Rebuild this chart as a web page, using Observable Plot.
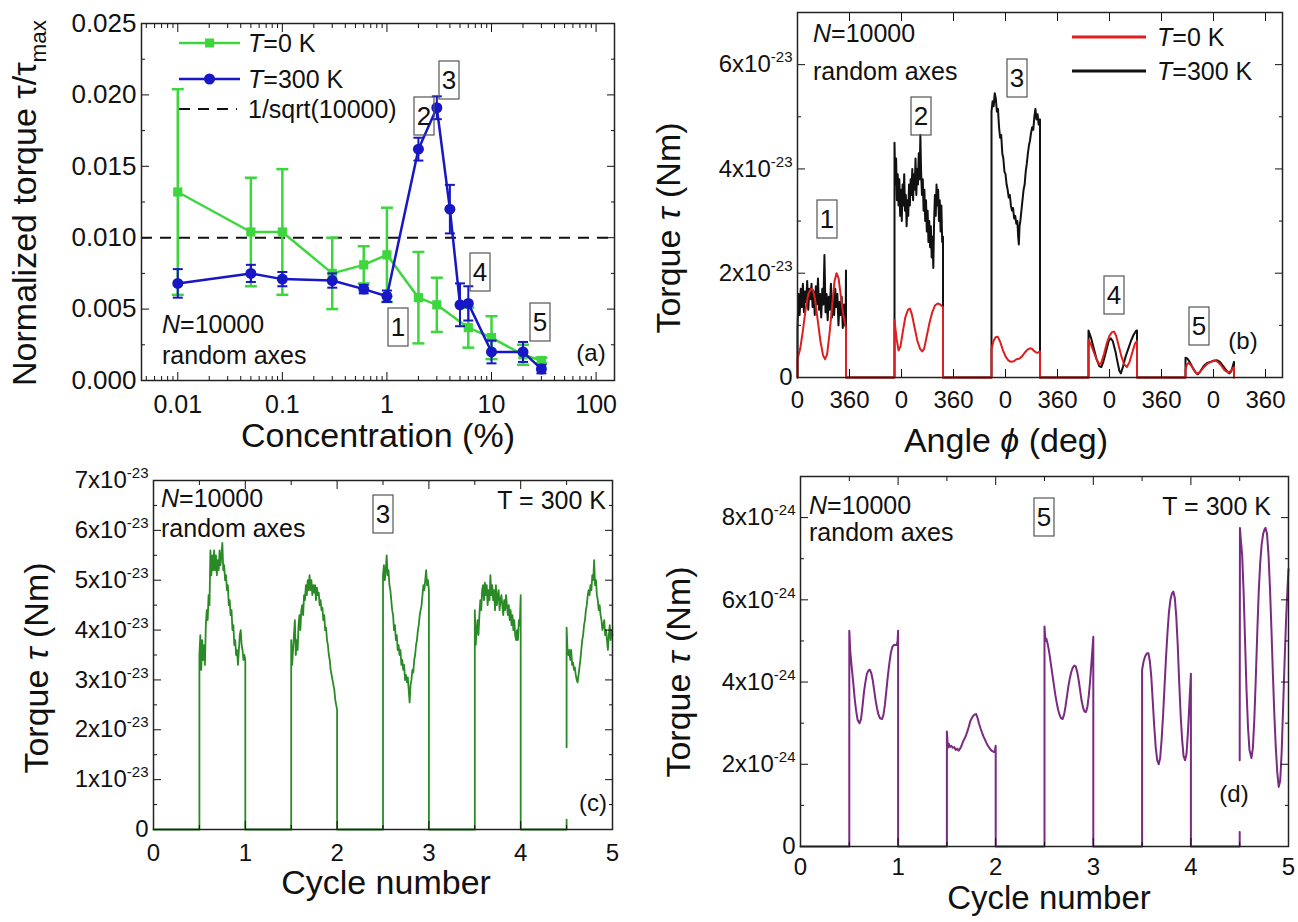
<!DOCTYPE html>
<html><head><meta charset="utf-8">
<script src="https://cdn.jsdelivr.net/npm/d3@7"></script>
<script src="https://cdn.jsdelivr.net/npm/@observablehq/plot@0.6"></script>
<style>
body{margin:0;background:#fff;}
#fig{position:relative;width:1298px;height:922px;overflow:hidden;background:#fff;}
</style></head><body><div id="fig"></div>
<script>
// ================= DATA =================
// Panel (a): normalized torque vs concentration (%)
const concT0 = [0.01, 0.05, 0.1, 0.3, 0.6, 1, 2, 3, 6, 10, 20, 30];
const torqueT0 = [0.0132, 0.0104, 0.0104, 0.0075, 0.0081, 0.0088, 0.0058, 0.0053, 0.0037, 0.0030, 0.0018, 0.0014];
const errT0 = [0.0072, 0.0038, 0.0044, 0.0025, 0.0013, 0.0033, 0.0032, 0.0019, 0.0014, 0.0015, 0.0007, 0.0002];
const concT300 = [0.01, 0.05, 0.1, 0.3, 0.6, 1, 2, 3, 4, 5, 6, 10, 20, 30];
const torqueT300 = [0.0068, 0.0075, 0.0071, 0.0070, 0.0064, 0.0059, 0.0162, 0.0191, 0.0120, 0.0053, 0.0054, 0.0020, 0.0020, 0.0008];
const errT300 = [0.0010, 0.0006, 0.0005, 0.0005, 0.0003, 0.0004, 0.0008, 0.0008, 0.0017, 0.0015, 0.0012, 0.0008, 0.0007, 0.0003];
const refLevel = [0.01]; // 1/sqrt(10000)
const aXTicks = [0.01, 0.1, 1, 10, 100];

// Panel (b): torque (units 1e-23 Nm) vs angle, five samples laid side by side
const bSegmentStart = [0, 720, 1440, 2160, 2880];
const bTickPos = [0, 386, 772, 1158, 1544, 1930, 2316, 2702, 3088, 3474];
const bTickLabels = ["0", "360", "0", "360", "0", "360", "0", "360", "0", "360"];
const bBlack = [
  [[0,0.95],[8,1.6],[16,1.2],[24,1.7],[32,1.35],[40,1.8],[48,1.25],[56,1.65],[64,1.45],[72,1.85],[80,1.3],[88,1.7],[96,1.5],[104,1.8],[112,1.35],[120,1.65],[128,1.2],[136,1.75],[144,1.4],[152,1.9],[160,1.3],[168,1.6],[176,1.15],[184,1.7],[192,1.4],[200,2.35],[208,1.25],[216,1.6],[224,1.1],[232,1.55],[240,1.3],[248,1.8],[256,1.15],[264,1.5],[272,1.2],[280,1.7],[288,1.35],[296,1.6],[304,1.0],[312,1.45],[320,1.2],[328,1.55],[336,0.95],[344,1.4],[352,1.0],[358,1.3],[360,2.05]],
  [[0,4.5],[6,3.7],[12,4.2],[18,3.4],[24,3.9],[30,3.3],[36,3.8],[42,3.1],[48,3.6],[54,3.0],[60,3.7],[66,3.3],[72,3.9],[78,3.2],[84,3.5],[90,2.9],[96,3.4],[102,3.1],[108,3.7],[114,3.3],[120,3.8],[126,3.5],[132,4.0],[138,3.4],[144,3.9],[150,3.6],[156,4.2],[162,3.5],[168,4.0],[174,3.7],[180,4.3],[186,3.8],[192,4.65],[198,3.9],[204,3.5],[210,3.8],[216,3.2],[222,3.6],[228,3.0],[234,3.4],[240,2.8],[246,3.2],[252,2.6],[258,3.0],[264,2.5],[270,2.9],[276,2.3],[282,2.7],[288,2.1],[294,3.0],[300,3.5],[306,3.1],[312,3.7],[318,3.3],[324,3.6],[330,3.0],[336,3.4],[342,2.8],[348,3.3],[354,2.6],[360,2.7]],
  [[0,5.1],[8,5.3],[16,5.2],[24,5.45],[32,5.35],[40,5.1],[48,5.15],[56,4.8],[64,4.6],[72,4.65],[80,4.3],[88,4.2],[96,3.95],[104,3.9],[112,3.7],[120,3.6],[128,3.45],[136,3.5],[144,3.3],[152,3.2],[160,3.25],[168,3.05],[176,3.1],[184,2.95],[192,3.0],[198,2.7],[203,2.55],[208,2.9],[214,3.0],[222,3.2],[230,3.4],[238,3.6],[246,3.7],[254,3.95],[262,4.1],[270,4.3],[278,4.45],[286,4.55],[294,4.7],[302,4.8],[310,4.75],[318,5.0],[326,5.15],[334,4.95],[342,5.05],[350,4.85],[360,4.95]],
  [[0,0.9],[20,0.75],[40,0.55],[60,0.35],[80,0.22],[95,0.2],[110,0.3],[130,0.5],[150,0.7],[165,0.75],[180,0.7],[200,0.5],[215,0.3],[230,0.12],[240,0.08],[255,0.2],[275,0.4],[295,0.55],[315,0.7],[335,0.82],[355,0.9],[360,0.9]],
  [[0,0.38],[15,0.36],[35,0.28],[55,0.18],[75,0.1],[92,0.06],[110,0.12],[135,0.22],[160,0.28],[185,0.3],[210,0.32],[235,0.33],[255,0.3],[280,0.22],[305,0.13],[325,0.08],[340,0.12],[360,0.3]]
];
const bRed = [
  [[0,0.35],[20,0.55],[40,0.9],[60,1.3],[80,1.6],[100,1.7],[115,1.68],[130,1.5],[150,1.1],[170,0.7],[190,0.42],[205,0.35],[220,0.45],[240,0.9],[260,1.45],[275,1.85],[290,2.0],[305,1.9],[320,1.6],[340,1.2],[360,0.95]],
  [[0,1.1],[15,0.75],[30,0.52],[45,0.6],[60,0.85],[80,1.15],[100,1.3],[115,1.32],[130,1.2],[150,0.95],[170,0.7],[190,0.55],[205,0.5],[220,0.55],[240,0.8],[260,1.05],[280,1.25],[300,1.38],[320,1.42],[340,1.4],[360,1.35]],
  [[0,0.55],[15,0.7],[30,0.77],[47,0.78],[65,0.68],[85,0.52],[105,0.4],[125,0.33],[145,0.3],[165,0.31],[185,0.35],[205,0.36],[225,0.4],[245,0.47],[265,0.53],[285,0.56],[300,0.55],[320,0.5],[340,0.47],[360,0.5]],
  [[0,0.72],[20,0.62],[40,0.48],[60,0.35],[80,0.25],[95,0.28],[115,0.45],[135,0.65],[155,0.8],[175,0.87],[190,0.88],[205,0.8],[225,0.6],[245,0.4],[265,0.25],[285,0.2],[305,0.3],[325,0.48],[345,0.65],[360,0.7]],
  [[0,0.15],[10,0.25],[25,0.28],[45,0.22],[65,0.13],[85,0.07],[105,0.1],[130,0.18],[160,0.26],[190,0.3],[215,0.33],[240,0.3],[265,0.23],[290,0.14],[315,0.1],[335,0.12],[350,0.17],[360,0.2]]
];

// Panel (c): torque (units 1e-23 Nm) vs cycle, sample 3, T = 300 K; [fraction of half cycle, value]
const cCycleStart = [0.5, 1.5, 2.5, 3.5, 4.5];
const cSegs = [
  [[0,3.5],[0.02,3.9],[0.04,3.2],[0.06,3.8],[0.08,3.4],[0.1,3.7],[0.12,3.3],[0.14,4.1],[0.16,4.4],[0.18,4.2],[0.2,4.7],[0.22,4.5],[0.24,5.6],[0.26,5.1],[0.28,5.5],[0.3,5.2],[0.32,5.6],[0.34,5.2],[0.36,5.5],[0.38,5.1],[0.4,5.4],[0.42,5.2],[0.44,5.6],[0.46,5.3],[0.48,5.5],[0.5,5.75],[0.52,5.2],[0.54,5.3],[0.56,5.0],[0.58,5.1],[0.6,4.8],[0.62,4.9],[0.64,4.5],[0.66,4.6],[0.68,4.3],[0.7,4.4],[0.72,4.0],[0.74,4.1],[0.76,3.7],[0.78,3.8],[0.8,3.5],[0.82,3.6],[0.84,3.3],[0.86,3.6],[0.88,3.9],[0.9,4.0],[0.92,3.7],[0.94,3.6],[0.96,3.4],[0.98,3.5],[1,3.4]],
  [[0,3.8],[0.02,3.3],[0.04,3.6],[0.06,3.9],[0.08,4.2],[0.1,3.5],[0.12,3.8],[0.14,3.6],[0.16,4.1],[0.18,4.3],[0.2,4.0],[0.22,4.4],[0.24,4.5],[0.26,4.3],[0.28,4.7],[0.3,4.6],[0.32,4.9],[0.34,4.7],[0.36,5.0],[0.38,4.8],[0.4,5.1],[0.42,4.8],[0.44,5.0],[0.46,4.7],[0.48,4.9],[0.5,4.75],[0.52,4.9],[0.54,4.6],[0.56,4.85],[0.58,4.7],[0.6,4.75],[0.62,4.5],[0.64,4.6],[0.66,4.4],[0.68,4.45],[0.7,4.2],[0.72,4.3],[0.74,4.0],[0.76,4.05],[0.78,3.8],[0.8,3.7],[0.82,3.5],[0.84,3.4],[0.86,3.2],[0.88,3.1],[0.9,3.0],[0.92,2.9],[0.94,2.8],[0.96,2.6],[0.98,2.5],[1,2.4]],
  [[0,5.1],[0.02,5.3],[0.04,5.0],[0.06,5.2],[0.08,5.5],[0.1,5.1],[0.12,5.2],[0.14,4.9],[0.16,4.8],[0.18,4.6],[0.2,4.4],[0.22,4.3],[0.24,4.0],[0.26,4.1],[0.28,3.8],[0.3,3.9],[0.32,3.6],[0.34,3.7],[0.36,3.5],[0.38,3.6],[0.4,3.3],[0.42,3.4],[0.44,3.2],[0.46,3.3],[0.48,3.0],[0.5,3.1],[0.52,2.95],[0.54,3.05],[0.56,2.8],[0.58,2.55],[0.6,2.9],[0.62,3.0],[0.64,3.2],[0.66,3.15],[0.68,3.4],[0.7,3.5],[0.72,3.7],[0.74,3.8],[0.76,4.0],[0.78,4.1],[0.8,4.3],[0.82,4.4],[0.84,4.5],[0.86,4.7],[0.88,4.9],[0.9,4.8],[0.92,5.0],[0.94,5.2],[0.96,4.9],[0.98,5.0],[1,4.8]],
  [[0,4.4],[0.02,3.7],[0.04,4.0],[0.06,4.2],[0.08,3.9],[0.1,4.3],[0.12,4.6],[0.14,4.4],[0.16,4.8],[0.18,4.9],[0.2,4.6],[0.22,4.95],[0.24,4.7],[0.26,4.9],[0.28,4.5],[0.3,4.8],[0.32,4.6],[0.34,5.1],[0.36,4.7],[0.38,4.9],[0.4,4.6],[0.42,4.8],[0.44,4.4],[0.46,4.9],[0.48,4.5],[0.5,4.7],[0.52,4.8],[0.54,4.4],[0.56,4.6],[0.58,4.7],[0.6,4.5],[0.62,4.3],[0.64,4.6],[0.66,4.4],[0.68,4.7],[0.7,4.5],[0.72,4.3],[0.74,4.5],[0.76,4.2],[0.78,4.4],[0.8,4.1],[0.82,4.3],[0.84,4.0],[0.86,4.2],[0.88,3.9],[0.9,3.8],[0.92,4.0],[0.94,3.8],[0.96,4.2],[0.98,4.1],[1,4.7]],
  [[0,1.65],[0,4.05],[0.02,3.6],[0.04,3.5],[0.06,3.6],[0.08,3.4],[0.1,3.6],[0.12,3.3],[0.14,3.35],[0.16,3.2],[0.18,3.25],[0.2,3.1],[0.22,3.0],[0.24,2.95],[0.26,3.1],[0.28,3.25],[0.3,3.4],[0.32,3.6],[0.34,3.8],[0.36,3.9],[0.38,4.1],[0.4,4.2],[0.42,4.4],[0.44,4.5],[0.46,4.7],[0.48,4.8],[0.5,4.7],[0.52,4.9],[0.54,4.8],[0.56,5.1],[0.58,5.0],[0.6,5.4],[0.62,4.9],[0.64,5.0],[0.66,4.7],[0.68,4.6],[0.7,4.4],[0.72,4.5],[0.74,4.3],[0.76,4.2],[0.78,4.0],[0.8,4.1],[0.82,4.2],[0.84,3.9],[0.86,4.0],[0.88,3.8],[0.9,3.6],[0.92,3.9],[0.94,4.1],[0.96,3.8],[0.98,4.0],[1,3.9]]
];
const cStub = [[0,0],[0,0.2]]; // short piece at the start of the last cycle

// Panel (d): torque (units 1e-24 Nm) vs cycle, sample 5, T = 300 K
const dCycleStart = [0.5, 1.5, 2.5, 3.5, 4.5];
const dSegs = [
  [[0,5.25],[0.02,4.75],[0.05,4.35],[0.08,4.0],[0.11,3.6],[0.14,3.3],[0.17,3.08],[0.21,3.0],[0.24,3.1],[0.27,3.4],[0.3,3.75],[0.33,4.0],[0.36,4.2],[0.39,4.28],[0.42,4.3],[0.45,4.22],[0.48,4.05],[0.51,3.8],[0.54,3.55],[0.57,3.35],[0.6,3.2],[0.63,3.12],[0.67,3.1],[0.7,3.2],[0.73,3.45],[0.76,3.8],[0.79,4.15],[0.82,4.45],[0.85,4.7],[0.88,4.85],[0.91,4.9],[0.94,4.9],[0.97,4.9],[0.99,5.0],[1,5.25]],
  [[0,2.8],[0.02,2.4],[0.04,2.5],[0.06,2.42],[0.09,2.45],[0.12,2.4],[0.15,2.42],[0.18,2.35],[0.21,2.38],[0.24,2.33],[0.27,2.38],[0.3,2.45],[0.33,2.55],[0.36,2.62],[0.39,2.7],[0.42,2.8],[0.45,2.92],[0.48,3.05],[0.51,3.12],[0.54,3.18],[0.57,3.21],[0.6,3.22],[0.63,3.12],[0.66,2.98],[0.69,2.87],[0.72,2.77],[0.75,2.68],[0.78,2.6],[0.81,2.52],[0.84,2.45],[0.87,2.4],[0.9,2.35],[0.93,2.32],[0.96,2.3],[0.98,2.3],[1,2.45]],
  [[0,5.35],[0.02,5.0],[0.04,5.05],[0.07,4.9],[0.1,4.7],[0.13,4.45],[0.16,4.2],[0.19,3.95],[0.22,3.7],[0.25,3.5],[0.28,3.32],[0.31,3.2],[0.34,3.12],[0.37,3.1],[0.4,3.2],[0.43,3.4],[0.46,3.65],[0.49,3.9],[0.52,4.1],[0.55,4.25],[0.58,4.35],[0.61,4.4],[0.64,4.38],[0.67,4.25],[0.7,4.05],[0.73,3.8],[0.76,3.55],[0.79,3.38],[0.82,3.28],[0.85,3.27],[0.88,3.4],[0.91,3.7],[0.94,4.1],[0.97,4.6],[1,5.1]],
  [[0,4.3],[0.03,4.5],[0.06,4.62],[0.1,4.7],[0.13,4.7],[0.16,4.5],[0.19,4.1],[0.22,3.5],[0.25,2.9],[0.28,2.4],[0.31,2.1],[0.34,2.0],[0.37,2.15],[0.4,2.6],[0.43,3.2],[0.46,3.9],[0.49,4.6],[0.52,5.2],[0.55,5.7],[0.58,6.0],[0.61,6.15],[0.64,6.2],[0.67,6.05],[0.7,5.6],[0.73,4.9],[0.76,4.0],[0.79,3.2],[0.82,2.6],[0.85,2.2],[0.88,2.1],[0.91,2.25],[0.94,2.8],[0.97,3.5],[1,4.2]],
  [[0,2.1],[0.005,7.75],[0.02,7.5],[0.05,7.1],[0.08,6.2],[0.11,5.0],[0.14,3.8],[0.17,2.9],[0.2,2.35],[0.24,2.15],[0.27,2.4],[0.3,3.1],[0.33,4.1],[0.36,5.2],[0.39,6.2],[0.42,6.9],[0.45,7.35],[0.48,7.6],[0.51,7.72],[0.53,7.75],[0.56,7.6],[0.59,7.1],[0.62,6.3],[0.65,5.3],[0.68,4.2],[0.71,3.2],[0.74,2.4],[0.77,1.8],[0.8,1.45],[0.83,1.6],[0.86,2.3],[0.89,3.4],[0.92,4.5],[0.95,5.5],[0.98,6.3],[1,6.75]]
];
const dStub = [[0,0],[0,0.35]];

// ================= HELPERS =================
const FONT = "'Liberation Sans', Arimo, Arial, Helvetica, sans-serif";
const STYLE = `font-family:${FONT};font-size:24px;color:#111;background:transparent;overflow:visible;`;
const capSymbol = {draw(ctx, size) { const r = Math.sqrt(size / Math.PI); ctx.moveTo(-r, 0); ctx.lineTo(r, 0); }};
const fig = document.getElementById("fig");
const blank = () => "";

function frameAxes({xMajor, xMinor, yMajor, yMinor, xFmt, yFmt, xPad = 22, xSize = 24, ySize = 24}) {
  const m = [];
  m.push(Plot.axisX(xMajor, {anchor: "bottom", tickSize: -8, tickPadding: xPad, tickFormat: xFmt, fontSize: xSize, label: null}));
  m.push(Plot.axisX(xMajor, {anchor: "top", tickSize: -8, tickFormat: blank, label: null}));
  if (xMinor) {
    m.push(Plot.axisX(xMinor, {anchor: "bottom", tickSize: -4, tickFormat: blank, label: null}));
    m.push(Plot.axisX(xMinor, {anchor: "top", tickSize: -4, tickFormat: blank, label: null}));
  }
  m.push(Plot.axisY(yMajor, {anchor: "left", tickSize: -8, tickPadding: 13, tickFormat: yFmt, fontSize: ySize, label: null}));
  m.push(Plot.axisY(yMajor, {anchor: "right", tickSize: -8, tickFormat: blank, label: null}));
  if (yMinor) {
    m.push(Plot.axisY(yMinor, {anchor: "left", tickSize: -4, tickFormat: blank, label: null}));
    m.push(Plot.axisY(yMinor, {anchor: "right", tickSize: -4, tickFormat: blank, label: null}));
  }
  m.push(Plot.frame({stroke: "#222", strokeWidth: 1.5}));
  return m;
}

function place(svg, left, top) {
  svg.style.position = "absolute";
  svg.style.left = left + "px";
  svg.style.top = top + "px";
  fig.appendChild(svg);
  // superscript exponents in tick labels
  d3.select(svg).selectAll("text").each(function () {
    const s = this.textContent;
    if (s.includes("^")) {
      const [a, b] = s.split("^");
      this.textContent = a;
      d3.select(this).append("tspan").attr("dy", -10).attr("font-size", 15).text(b);
    }
  });
  return svg;
}

function txt(svg, x, y, parts, o = {}) {
  const size = o.size || 25;
  const t = d3.select(svg).append("text")
    .attr("x", x).attr("y", y)
    .attr("font-size", size)
    .attr("font-family", FONT)
    .attr("text-anchor", o.anchor || "start")
    .attr("fill", "#111");
  if (o.rotate) t.attr("transform", `rotate(${o.rotate},${x},${y})`);
  if (o.dy) t.attr("dy", o.dy);
  for (const p of (typeof parts === "string" ? [{t: parts}] : parts)) {
    const s = t.append("tspan").text(p.t);
    if (p.i) s.attr("font-style", "italic");
    if (p.sub) s.attr("font-size", size * 0.66).attr("dy", size * 0.3);
  }
  return t;
}

function boxLabel(svg, cx, cy, label) {
  const g = d3.select(svg).append("g");
  g.append("rect").attr("x", cx - 10).attr("y", cy - 19).attr("width", 20).attr("height", 38)
    .attr("fill", "none").attr("stroke", "#555").attr("stroke-width", 1.2);
  g.append("text").attr("x", cx).attr("y", cy).attr("dy", "0.36em").attr("text-anchor", "middle")
    .attr("font-size", 26).attr("font-family", FONT).attr("fill", "#111").text(label);
}

function legendItem(svg, x1, x2, y, stroke, opts = {}) {
  const s = d3.select(svg);
  s.append("line").attr("x1", x1).attr("x2", x2).attr("y1", y).attr("y2", y)
    .attr("stroke", stroke).attr("stroke-width", opts.width || 2.5)
    .attr("stroke-dasharray", opts.dash || null);
  if (opts.marker === "square") s.append("rect").attr("x", (x1 + x2) / 2 - 4.5).attr("y", y - 4.5).attr("width", 9).attr("height", 9).attr("fill", stroke);
  if (opts.marker === "circle") s.append("circle").attr("cx", (x1 + x2) / 2).attr("cy", y).attr("r", 5.5).attr("fill", stroke);
}

const expFmt = (exp, unit) => d => d === 0 ? "0" : `${Math.round(d / unit)}x10^-${exp}`;

// ================= PANEL (a) =================
{
  const green = "#3dd63d", blue = "#1717c6";
  const t0 = concT0.map((c, i) => ({c, v: torqueT0[i], e: errT0[i]}));
  const t3 = concT300.map((c, i) => ({c, v: torqueT300[i], e: errT300[i]}));
  const minorX = [];
  for (const dec of [0.001, 0.01, 0.1, 1, 10, 100]) for (let k = 2; k <= 9; k++) minorX.push(dec * k);
  const svg = Plot.plot({
    width: 640, height: 460,
    marginLeft: 141, marginRight: 26, marginTop: 23, marginBottom: 80,
    style: STYLE,
    x: {type: "log", domain: [0.0045, 150]},
    y: {domain: [0, 0.025]},
    marks: [
      Plot.ruleY(refLevel, {stroke: "#111", strokeWidth: 2, strokeDasharray: "11,8"}),
      Plot.ruleX(t0, {x: "c", y1: d => d.v - d.e, y2: d => d.v + d.e, stroke: green, strokeWidth: 2.5}),
      Plot.dot(t0, {x: "c", y: d => d.v - d.e, symbol: capSymbol, r: 6, fill: "none", stroke: green, strokeWidth: 2.5}),
      Plot.dot(t0, {x: "c", y: d => d.v + d.e, symbol: capSymbol, r: 6, fill: "none", stroke: green, strokeWidth: 2.5}),
      Plot.line(t0, {x: "c", y: "v", stroke: green, strokeWidth: 2.5}),
      Plot.dot(t0, {x: "c", y: "v", symbol: "square", r: 5.2, fill: green}),
      Plot.ruleX(t3, {x: "c", y1: d => d.v - d.e, y2: d => d.v + d.e, stroke: blue, strokeWidth: 2}),
      Plot.dot(t3, {x: "c", y: d => d.v - d.e, symbol: capSymbol, r: 5, fill: "none", stroke: blue, strokeWidth: 2}),
      Plot.dot(t3, {x: "c", y: d => d.v + d.e, symbol: capSymbol, r: 5, fill: "none", stroke: blue, strokeWidth: 2}),
      Plot.line(t3, {x: "c", y: "v", stroke: blue, strokeWidth: 2.5}),
      Plot.dot(t3, {x: "c", y: "v", r: 5.5, fill: blue}),
      ...frameAxes({xMajor: aXTicks, xMinor: minorX.filter(v => v > 0.0045 && v < 150), yMajor: d3.range(0, 0.0251, 0.005), yMinor: [0.0025, 0.0075, 0.0125, 0.0175, 0.0225],
        xFmt: d => String(d), yFmt: d3.format(".3f"), xPad: 23, xSize: 25, ySize: 26})
    ]
  });
  place(svg, 0, 0);
  txt(svg, 378, 447, "Concentration (%)", {size: 34, anchor: "middle"});
  txt(svg, 36, 203, [{t: "Normalized torque τ/τ"}, {t: "max", sub: true}], {size: 34, anchor: "middle", rotate: -90});
  legendItem(svg, 179, 240, 43, green, {marker: "square"});
  txt(svg, 248, 43, [{t: "T", i: true}, {t: "=0 K"}], {dy: "0.36em"});
  legendItem(svg, 179, 240, 79, blue, {marker: "circle"});
  txt(svg, 248, 79, [{t: "T", i: true}, {t: "=300 K"}], {dy: "0.36em"});
  legendItem(svg, 179, 237, 109, "#111", {dash: "11,8", width: 2});
  txt(svg, 248, 109, "1/sqrt(10000)", {dy: "0.36em"});
  txt(svg, 162, 333, [{t: "N", i: true}, {t: "=10000"}]);
  txt(svg, 162, 364, "random axes");
  txt(svg, 591, 352, "(a)", {anchor: "middle", dy: "0.36em", size: 24});
  boxLabel(svg, 398, 327, "1");
  boxLabel(svg, 424, 116, "2");
  boxLabel(svg, 449, 80, "3");
  boxLabel(svg, 480, 272, "4");
  boxLabel(svg, 540, 322, "5");
}

// ================= PANEL (b) =================
{
  const U = 1e-23;
  const build = segs => {
    const out = [];
    segs.forEach((seg, k) => {
      const off = bSegmentStart[k];
      out.push({x: off, y: 0});
      seg.forEach(([a, v]) => out.push({x: off + a, y: v * U}));
      out.push({x: off + 360, y: 0});
    });
    return out;
  };
  const svg = Plot.plot({
    width: 658, height: 460,
    marginLeft: 157, marginRight: 16, marginTop: 12, marginBottom: 83,
    style: STYLE,
    x: {domain: [0, 3600]},
    y: {domain: [0, 7e-23]},
    marks: [
      Plot.line(build(bBlack), {x: "x", y: "y", stroke: "#111", strokeWidth: 2}),
      Plot.line(build(bRed), {x: "x", y: "y", stroke: "#dd1f1f", strokeWidth: 2}),
      ...frameAxes({xMajor: bTickPos, xMinor: null, yMajor: [0, 2e-23, 4e-23, 6e-23], yMinor: [1e-23, 3e-23, 5e-23, 7e-23],
        xFmt: d => bTickLabels[bTickPos.indexOf(d)] ?? "", yFmt: expFmt(23, U), xPad: 21})
    ]
  });
  place(svg, 640, 0);
  txt(svg, 366, 452, [{t: "Angle "}, {t: "ϕ", i: true}, {t: " (deg)"}], {size: 34, anchor: "middle"});
  txt(svg, 40, 228, [{t: "Torque "}, {t: "τ", i: true}, {t: " (Nm)"}], {size: 34, anchor: "middle", rotate: -90});
  txt(svg, 173, 42, [{t: "N", i: true}, {t: "=10000"}]);
  txt(svg, 173, 80, "random axes");
  legendItem(svg, 432, 506, 37, "#dd1f1f", {width: 3});
  txt(svg, 517, 37, [{t: "T", i: true}, {t: "=0 K"}], {dy: "0.36em"});
  legendItem(svg, 432, 506, 71, "#111", {width: 3});
  txt(svg, 517, 71, [{t: "T", i: true}, {t: "=300 K"}], {dy: "0.36em"});
  boxLabel(svg, 187, 219, "1");
  boxLabel(svg, 281, 116, "2");
  boxLabel(svg, 377, 78, "3");
  boxLabel(svg, 474, 295, "4");
  boxLabel(svg, 559, 326, "5");
  txt(svg, 603, 340, "(b)", {anchor: "middle", dy: "0.36em", size: 24});
}

// ================= PANEL (c) =================
function cycleSeries(starts, segs, stub, unit) {
  const out = [{x: 0, y: 0}];
  segs.forEach((seg, k) => {
    const s = starts[k];
    if (k === segs.length - 1) {
      stub.forEach(([f, v]) => out.push({x: s + f * 0.5, y: v * unit}));
      out.push({x: s, y: NaN});
    } else {
      out.push({x: s, y: 0});
    }
    seg.forEach(([f, v]) => out.push({x: s + f * 0.5, y: v * unit}));
    if (k < segs.length - 1) out.push({x: s + 0.5, y: 0});
  });
  return out;
}
{
  const U = 1e-23;
  const svg = Plot.plot({
    width: 640, height: 462,
    marginLeft: 153, marginRight: 28, marginTop: 20, marginBottom: 93,
    style: STYLE,
    x: {domain: [0, 5]},
    y: {domain: [0, 7e-23]},
    marks: [
      Plot.line(cycleSeries(cCycleStart, cSegs, cStub, U), {x: "x", y: "y", stroke: "#2a8a26", strokeWidth: 1.8}),
      ...frameAxes({xMajor: [0, 1, 2, 3, 4, 5], xMinor: [0.5, 1.5, 2.5, 3.5, 4.5],
        yMajor: [0, 1e-23, 2e-23, 3e-23, 4e-23, 5e-23, 6e-23, 7e-23], yMinor: [0.5e-23, 1.5e-23, 2.5e-23, 3.5e-23, 4.5e-23, 5.5e-23, 6.5e-23],
        xFmt: d => String(d), yFmt: expFmt(23, U), xPad: 22})
    ]
  });
  place(svg, 0, 460);
  txt(svg, 386, 434, "Cycle number", {size: 34, anchor: "middle"});
  txt(svg, 48, 208, [{t: "Torque "}, {t: "τ", i: true}, {t: " (Nm)"}], {size: 34, anchor: "middle", rotate: -90});
  txt(svg, 161, 47, [{t: "N", i: true}, {t: "=10000"}]);
  txt(svg, 161, 77, "random axes");
  boxLabel(svg, 383, 54, "3");
  txt(svg, 606, 49, "T = 300 K", {anchor: "end"});
  txt(svg, 593, 342, "(c)", {anchor: "middle", dy: "0.36em", size: 24});
}

// ================= PANEL (d) =================
{
  const U = 1e-24;
  const svg = Plot.plot({
    width: 658, height: 462,
    marginLeft: 160, marginRight: 10, marginTop: 16, marginBottom: 76,
    style: STYLE,
    x: {domain: [0, 5]},
    y: {domain: [0, 9e-24]},
    marks: [
      Plot.line(cycleSeries(dCycleStart, dSegs, dStub, U), {x: "x", y: "y", stroke: "#7a2a80", strokeWidth: 2}),
      ...frameAxes({xMajor: [0, 1, 2, 3, 4, 5], xMinor: [0.5, 1.5, 2.5, 3.5, 4.5],
        yMajor: [0, 2e-24, 4e-24, 6e-24, 8e-24], yMinor: [1e-24, 3e-24, 5e-24, 7e-24, 9e-24],
        xFmt: d => String(d), yFmt: expFmt(24, U), xPad: 19})
    ]
  });
  place(svg, 640, 460);
  txt(svg, 409, 449, "Cycle number", {size: 33, anchor: "middle"});
  txt(svg, 50, 212, [{t: "Torque "}, {t: "τ", i: true}, {t: " (Nm)"}], {size: 34, anchor: "middle", rotate: -90});
  txt(svg, 169, 54, [{t: "N", i: true}, {t: "=10000"}]);
  txt(svg, 169, 81, "random axes");
  boxLabel(svg, 404, 57, "5");
  txt(svg, 631, 55, "T = 300 K", {anchor: "end"});
  txt(svg, 594, 333, "(d)", {anchor: "middle", dy: "0.36em", size: 24});
}
</script></body></html>
